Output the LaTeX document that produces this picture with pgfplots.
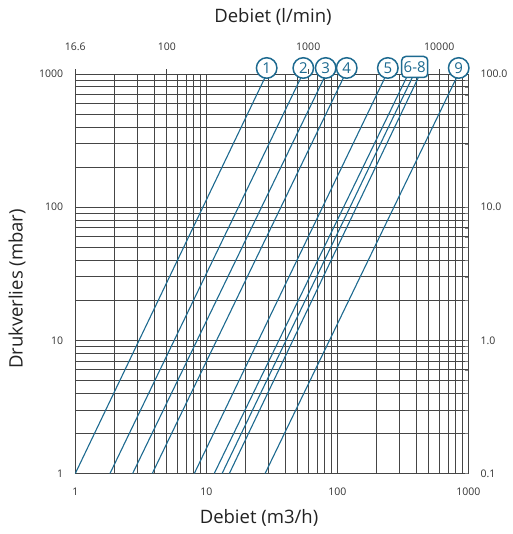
\documentclass[border=0pt]{standalone}
\usepackage{fontspec}
\setmainfont{Open Sans}
\usepackage{pgfplots}
\pgfplotsset{compat=1.18}
\definecolor{curve}{HTML}{1D6A90}
\definecolor{gridc}{HTML}{454545}
\definecolor{txt}{HTML}{333333}
\definecolor{lbl}{HTML}{222222}
\tikzset{circ/.style={circle, draw=curve, fill=white, line width=1.5pt, minimum size=20.5pt,
    inner sep=0pt, text=curve, font=\fontsize{15}{15}\selectfont, yshift=6pt}}

\begin{document}
\begin{tikzpicture}[x=1pt,y=1pt]
\path[use as bounding box] (0,0) rectangle (512,534);

% main grid and curves
\begin{axis}[
  at={(75.3pt,60.5pt)}, anchor=south west, scale only axis,
  width=393pt, height=399.5pt,
  xmode=log, ymode=log,
  xmin=1, xmax=1000, ymin=1, ymax=1000,
  /pgf/number format/assume math mode=true,
  ticklabel style={font=\fontsize{10.5}{12}\selectfont, text=txt, inner sep=0pt},
  clip=false,
  xtick={1,10,100,1000}, xticklabels={1,10,100,1000},
  ytick={1,10,100,1000}, yticklabels={1,10,100,1000},
  major tick length=0pt, minor tick length=0pt,
  grid=both,
  major grid style={gridc, line width=0.9pt},
  minor grid style={gridc, line width=0.85pt},
  axis line style={gridc, line width=0.9pt},
  xticklabel style={anchor=center, yshift=-18pt},
  yticklabel style={anchor=east, xshift=-12pt},
]
\addplot[curve, line width=1.1pt] coordinates {(1,1) (28.9,1000)};
\addplot[curve, line width=1.1pt] coordinates {(1.84,1) (54.4,1000)};
\addplot[curve, line width=1.1pt] coordinates {(2.74,1) (82,1000)};
\addplot[curve, line width=1.1pt] coordinates {(3.87,1) (115,1000)};
\addplot[curve, line width=1.1pt] coordinates {(8.1,1) (238,1000)};
\addplot[curve, line width=1.1pt] coordinates {(11.5,1) (348,1000)};
\addplot[curve, line width=1.1pt] coordinates {(13.2,1) (385,1000)};
\addplot[curve, line width=1.1pt] coordinates {(15.0,1) (428,1000)};
\addplot[curve, line width=1.1pt] coordinates {(28.1,1) (839,1000)};

\node[circ] at (axis cs:28.9,1000) {1};
\node[circ] at (axis cs:55,1000) {2};
\node[circ] at (axis cs:81.5,1000) {3};
\node[circ] at (axis cs:118,1000) {4};
\node[circ] at (axis cs:243,1000) {5};
\node[draw=curve, fill=white, line width=1.5pt, rounded corners=4pt,
  minimum width=26pt, minimum height=21pt, inner sep=0pt, text=curve,
  font=\fontsize{15}{15}\selectfont, yshift=7pt] at (axis cs:390,1000) {6-8};
\node[circ] at (axis cs:845,1000) {9};
\end{axis}

% top axis (l/min)
\begin{axis}[
  at={(75.3pt,60.5pt)}, anchor=south west, scale only axis,
  width=393pt, height=399.5pt,
  xmode=log, ymode=log,
  xmin=1, xmax=1000, ymin=1, ymax=1000,
  /pgf/number format/assume math mode=true,
  ticklabel style={font=\fontsize{10.5}{12}\selectfont, text=txt, inner sep=0pt},
  axis x line*=top, hide y axis,
  xtick={1,5,60,600}, xticklabels={16.6,100,1000,10000},
  minor xtick={},
  xtick align=outside, major tick length=5pt,
  tick style={gridc, line width=0.8pt},
  axis line style={draw=none},
  xticklabel style={anchor=center, yshift=22pt},
]
\addplot[draw=none] coordinates {(1,1)};
\end{axis}

% right axis
\begin{axis}[
  at={(75.3pt,60.5pt)}, anchor=south west, scale only axis,
  width=393pt, height=399.5pt,
  xmode=log, ymode=log,
  xmin=1, xmax=1000, ymin=1, ymax=1000,
  /pgf/number format/assume math mode=true,
  ticklabel style={font=\fontsize{10.5}{12}\selectfont, text=txt, inner sep=0pt},
  axis y line*=right, hide x axis,
  ytick={1,10,100,1000}, yticklabels={0.1,1.0,10.0,100.0},
  minor ytick={},
  major tick length=0pt,
  axis line style={draw=none},
  yticklabel style={anchor=west, xshift=12pt},
]
\addplot[draw=none] coordinates {(1,1)};
\end{axis}

\node[text=lbl, font=\fontsize{18.5}{22}\selectfont] at (273,517) {Debiet (l/min)};
\node[text=lbl, font=\fontsize{18.5}{22}\selectfont] at (259,16) {Debiet (m3/h)};
\node[text=lbl, font=\fontsize{18.5}{22}\selectfont, rotate=90] at (17,245) {Drukverlies (mbar)};
\end{tikzpicture}
\end{document}
